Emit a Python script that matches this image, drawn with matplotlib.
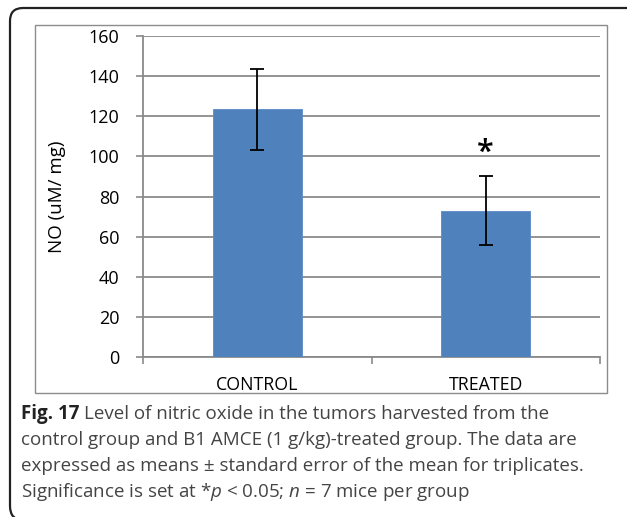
import matplotlib
matplotlib.use('Agg')
import matplotlib.pyplot as plt
from matplotlib.patches import PathPatch, Rectangle
from matplotlib.path import Path
from matplotlib.transforms import IdentityTransform

# data
groups = ['CONTROL', 'TREATED']
no_mean = [123.5, 73.0]
no_err = [20.3, 17.2]
sig_marks = ['', '*']
y_ticks = [0, 20, 40, 60, 80, 100, 120, 140, 160]

fig_label = 'Fig. 17'
caption = [
    "Level of nitric oxide in the tumors harvested from the",
    "control group and B1 AMCE (1 g/kg)-treated group. The data are",
    "expressed as means \u00b1 standard error of the mean for triplicates.",
    r"Significance is set at *$\mathit{p}$ < 0.05; $\mathit{n}$ = 7 mice per group",
]

plt.rcParams['font.family'] = ['Open Sans', 'DejaVu Sans']
plt.rcParams['mathtext.fontset'] = 'custom'
plt.rcParams['mathtext.rm'] = 'Open Sans'
plt.rcParams['mathtext.it'] = 'Open Sans:italic'
plt.rcParams['mathtext.bf'] = 'Open Sans:bold'

W, H = 627, 517
fig = plt.figure(figsize=(W / 100, H / 100), dpi=100)

def px(x0, y0, x1, y1):
    # pixel box (top-left origin) -> figure fraction [l, b, w, h]
    return [x0 / W, 1 - y1 / H, (x1 - x0) / W, (y1 - y0) / H]

# outer frame: left side and top with rounded corners, cut off by the image edge
r = 13
L, T, B = 10, H - 8, -2
verts = [(L + r, B - 1), (L, B - 1), (L, B + r), (L, T - r), (L, T), (L + r, T), (W + 20, T)]
codes = [Path.MOVETO, Path.CURVE3, Path.CURVE3, Path.LINETO, Path.CURVE3, Path.CURVE3, Path.LINETO]
fig.patches.append(PathPatch(Path(verts, codes), transform=IdentityTransform(),
                             fill=False, ec='#222222', lw=1.6))

# chart box
box = Rectangle((35, H - 393), 572, 368, transform=IdentityTransform(),
                fill=False, ec='#8c8c8c', lw=1.0)
fig.patches.append(box)

grid_c = '#8a8a8a'
ax = fig.add_axes(px(143, 36, 600, 357))
x = range(len(groups))
ax.bar(x, no_mean, width=0.39, color='#4F81BD', edgecolor='#5a8ac6', lw=0.6, zorder=3)
ax.errorbar(x, no_mean, yerr=no_err, fmt='none', ecolor='black', elinewidth=1.3,
            capsize=5, capthick=1.3, zorder=4)
for i, s in enumerate(sig_marks):
    if s:
        ax.text(i, no_mean[i] + no_err[i] + 4, s, ha='center', va='bottom',
                fontsize=22, color='black', fontweight='semibold')

ax.set_xlim(-0.5, 1.5)
ax.set_ylim(0, 160)
ax.set_yticks(y_ticks)
ax.yaxis.grid(True, color=grid_c, lw=1.3, zorder=0)
ax.set_axisbelow(True)
for side in ['top', 'right']:
    ax.spines[side].set_visible(False)
for side in ['left', 'bottom']:
    ax.spines[side].set_color(grid_c)
    ax.spines[side].set_linewidth(1.3)
ax.set_xticks(list(x))
ax.set_xticklabels(groups)
ax.set_xticks([-0.5, 0.5, 1.5], minor=True)
ax.tick_params(axis='x', which='major', length=0, pad=14, labelsize=12.8)
ax.tick_params(axis='x', which='minor', length=5, color=grid_c, width=1.2)
ax.tick_params(axis='y', length=5, color=grid_c, width=1.2, labelsize=13, pad=12)
ax.set_ylabel('NO (uM/ mg)', fontsize=13.5, labelpad=16)

# caption
cap_kw = dict(fontsize=13.5, color='#444444', ha='left', va='baseline')
lab = fig.text(21 / W, 1 - 419 / H, fig_label, fontweight='bold', fontsize=13.5,
               color='#222222', ha='left', va='baseline')
ext = lab.get_window_extent(renderer=fig.canvas.get_renderer())
for k, line in enumerate(caption):
    x0 = (ext.x1 + 5) / W if k == 0 else 21 / W
    fig.text(x0, 1 - (419 + 26 * k) / H, line, **cap_kw)

fig.savefig('out.png', dpi=100)
